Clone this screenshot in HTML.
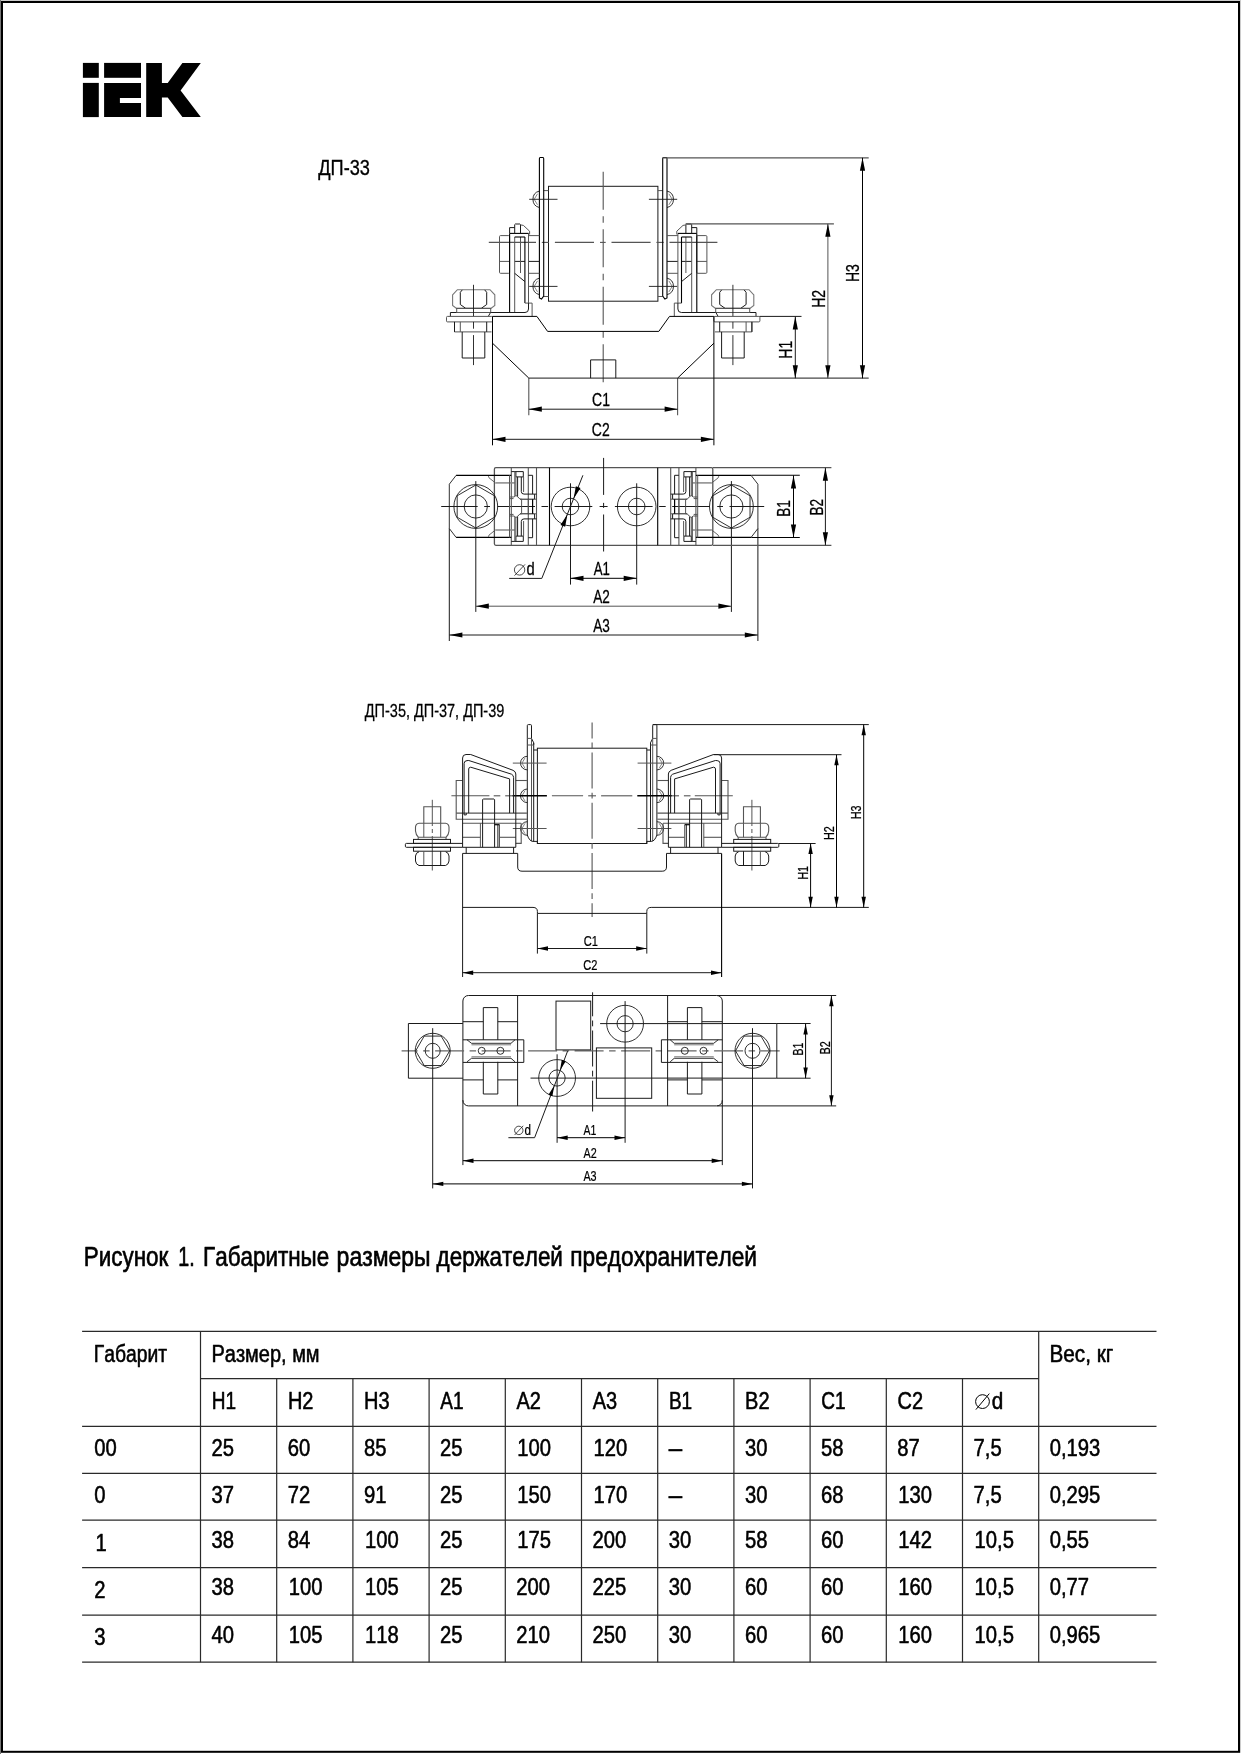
<!DOCTYPE html>
<html><head><meta charset="utf-8"><title>IEK</title>
<style>
html,body{margin:0;padding:0;background:#fff}
svg{display:block;will-change:transform;filter:grayscale(1)}
text{font-family:"Liberation Sans",sans-serif;fill:#000;font-kerning:none;stroke-linejoin:round}
</style></head><body>
<svg width="1241" height="1754" viewBox="0 0 1241 1754">
<rect x="0" y="0" width="1241" height="1754" fill="#fff"/>
<rect x="0" y="0" width="1241" height="1" fill="#ccc"/>
<rect x="0" y="0" width="1" height="1754" fill="#777"/>
<rect x="1240" y="0" width="1" height="1752.8" fill="#ccc"/>
<rect x="2" y="2" width="1237" height="1749.8" fill="none" stroke="#000" stroke-width="2"/>
<g fill="#000">
<rect x="82.9" y="62.9" width="15.9" height="14.9"/>
<rect x="82.9" y="82.9" width="15.9" height="34.2"/>
<rect x="104.1" y="62.9" width="36.9" height="14.9"/>
<path d="M104.1 82.9H141V98H119.9V102.9H141V117.1H104.1Z"/>
<path d="M146.2 62.9H161.9V82.9H167.7L182.4 62.9H200.8L180.6 90.5L200.8 117.1H182.4L167.7 97.5H161.9V117.1H146.2Z"/>
</g>
<text transform="translate(318.27 174.6) scale(0.82 1)" font-size="22.2" stroke="#000" stroke-width="0.31" vector-effect="non-scaling-stroke">ДП-33</text>
<rect x="548.5" y="186.3" width="109.4" height="114.9" rx="0" fill="none" stroke="#1a1a1a" stroke-width="1"/>
<line x1="603.2" y1="171.8" x2="603.2" y2="383" stroke="#555" stroke-width="1.1" stroke-dasharray="38 6.5 6.5 6.5"/>
<line x1="488.8" y1="242.4" x2="536" y2="242.4" stroke="#555" stroke-width="1.1"/>
<line x1="541.8" y1="242.4" x2="549" y2="242.4" stroke="#555" stroke-width="1.1"/>
<line x1="554.9" y1="242.4" x2="594" y2="242.4" stroke="#555" stroke-width="1.1"/>
<line x1="600" y1="242.4" x2="605.7" y2="242.4" stroke="#555" stroke-width="1.1"/>
<line x1="611.5" y1="242.4" x2="650.6" y2="242.4" stroke="#555" stroke-width="1.1"/>
<line x1="656.4" y1="242.4" x2="663.7" y2="242.4" stroke="#555" stroke-width="1.1"/>
<line x1="669.5" y1="242.4" x2="717.4" y2="242.4" stroke="#555" stroke-width="1.1"/>
<path d="M543.7 190.6 L548.5 190.6" fill="none" stroke="#555" stroke-width="1"/>
<path d="M543.7 296.5 L548.5 296.5" fill="none" stroke="#555" stroke-width="1"/>
<path d="M539.4 298 L539.4 159 Q539.4 157.3 540.4 157.5 L542.7 157.5 Q543.7 157.3 543.7 159 L543.7 296 L541.5 299 Z" fill="none" stroke="#000" stroke-width="1.1"/>
<path d="M539.4 191.05 A8.5 8.5 0 0 0 539.4 207.55" fill="none" stroke="#1a1a1a" stroke-width="0.9"/>
<path d="M537.5 193.8 L534.2 199.3 L537.5 204.8" fill="none" stroke="#555" stroke-width="0.7"/>
<line x1="529.2" y1="199.3" x2="557.5" y2="199.3" stroke="#1a1a1a" stroke-width="0.9"/>
<path d="M539.4 278.15 A8.5 8.5 0 0 0 539.4 294.65" fill="none" stroke="#1a1a1a" stroke-width="0.9"/>
<path d="M537.5 280.9 L534.2 286.4 L537.5 291.9" fill="none" stroke="#555" stroke-width="0.7"/>
<line x1="529.2" y1="286.4" x2="557.5" y2="286.4" stroke="#1a1a1a" stroke-width="0.9"/>
<rect x="499.5" y="235.6" width="10.1" height="37.7" rx="1" fill="none" stroke="#555" stroke-width="1"/>
<line x1="499.5" y1="261.4" x2="509.6" y2="261.4" stroke="#555" stroke-width="1"/>
<path d="M528.5 235.6 L539.4 235.6" fill="none" stroke="#555" stroke-width="1"/>
<path d="M528.5 273.3 L539.4 273.3" fill="none" stroke="#555" stroke-width="1"/>
<line x1="528.5" y1="261.4" x2="539.4" y2="261.4" stroke="#1a1a1a" stroke-width="1"/>
<line x1="514.7" y1="261.4" x2="524.9" y2="261.4" stroke="#1a1a1a" stroke-width="1"/>
<line x1="509.6" y1="233.4" x2="509.6" y2="312.5" stroke="#000" stroke-width="1.1"/>
<line x1="514.7" y1="237" x2="514.7" y2="312.5" stroke="#555" stroke-width="1"/>
<line x1="524.9" y1="237" x2="524.9" y2="303.1" stroke="#000" stroke-width="1.1"/>
<line x1="528.5" y1="233.4" x2="528.5" y2="303.1" stroke="#555" stroke-width="1"/>
<line x1="520.5" y1="237" x2="520.5" y2="273" stroke="#555" stroke-width="1"/>
<line x1="509.6" y1="233.4" x2="528.5" y2="233.4" stroke="#000" stroke-width="1.1"/>
<line x1="514.7" y1="237" x2="524.9" y2="237" stroke="#000" stroke-width="1.1"/>
<line x1="514.7" y1="273.3" x2="524.9" y2="281.6" stroke="#1a1a1a" stroke-width="1"/>
<path d="M509.6 233.4 L509.6 227.6 L514.7 227.6" fill="none" stroke="#1a1a1a" stroke-width="1"/>
<path d="M514.7 233.4 L514.7 224.6 L515.3 224 L519.9 224 L520.5 224.6 L520.5 233.4" fill="none" stroke="#1a1a1a" stroke-width="1"/>
<path d="M520.5 224.9 L523.4 225.4 L529.6 231.2 L529.6 234.5" fill="none" stroke="#555" stroke-width="1"/>
<path d="M524.9 303.1 L532.1 303.1 L532.1 316.4" fill="none" stroke="#555" stroke-width="1"/>
<path d="M528.5 303.1 L528.5 309 Q528.5 312.5 525 312.5 L450.4 312.5" fill="none" stroke="#1a1a1a" stroke-width="1"/>
<path d="M452.6 294.8 L457.4 289.7 L490 289.7 L494.8 294.8 L494.8 305.5 L490.9 308.4 L456.5 308.4 L452.6 305.5 Z" fill="none" stroke="#777" stroke-width="1.1"/>
<path d="M462.3 289.9 L460.3 292.3 L460.3 304.5 L465.8 308.4 L481.2 308.4 L486.7 304.5 L486.7 292.3 L484.7 289.9" fill="none" stroke="#1a1a1a" stroke-width="1"/>
<rect x="456.7" y="308.4" width="34" height="4.1" rx="0" fill="none" stroke="#555" stroke-width="1"/>
<path d="M490.5 312.5 L488.3 316.4" fill="none" stroke="#1a1a1a" stroke-width="1"/>
<line x1="450.4" y1="312.5" x2="450.4" y2="316.4" stroke="#1a1a1a" stroke-width="1"/>
<rect x="446.5" y="316.4" width="46" height="5.5" rx="1" fill="none" stroke="#555" stroke-width="1"/>
<path d="M454.5 321.9 L454.5 331.9 L491.5 331.9" fill="none" stroke="#555" stroke-width="1"/>
<line x1="460.3" y1="321.9" x2="460.3" y2="331.9" stroke="#555" stroke-width="1"/>
<line x1="454.5" y1="321.9" x2="454.5" y2="331.9" stroke="#1a1a1a" stroke-width="1"/>
<line x1="486.7" y1="321.9" x2="486.7" y2="331.9" stroke="#1a1a1a" stroke-width="1"/>
<path d="M462.2 331.9 L462.2 358 L484.8 358 L484.8 331.9" fill="none" stroke="#1a1a1a" stroke-width="1"/>
<line x1="473.5" y1="284.8" x2="473.5" y2="316.1" stroke="#1a1a1a" stroke-width="0.9"/>
<line x1="473.5" y1="321.9" x2="473.5" y2="328.7" stroke="#1a1a1a" stroke-width="0.9"/>
<line x1="473.5" y1="335.1" x2="473.5" y2="365.1" stroke="#1a1a1a" stroke-width="0.9"/>
<path d="M662.7 190.6 L657.9 190.6" fill="none" stroke="#555" stroke-width="1"/>
<path d="M662.7 296.5 L657.9 296.5" fill="none" stroke="#555" stroke-width="1"/>
<path d="M667 298 L667 159 Q667 157.3 666 157.5 L663.7 157.5 Q662.7 157.3 662.7 159 L662.7 296 L664.9 299 Z" fill="none" stroke="#000" stroke-width="1.1"/>
<path d="M667 191.05 A8.5 8.5 0 0 1 667 207.55" fill="none" stroke="#1a1a1a" stroke-width="0.9"/>
<path d="M668.9 193.8 L672.2 199.3 L668.9 204.8" fill="none" stroke="#555" stroke-width="0.7"/>
<line x1="677.2" y1="199.3" x2="648.9" y2="199.3" stroke="#1a1a1a" stroke-width="0.9"/>
<path d="M667 278.15 A8.5 8.5 0 0 1 667 294.65" fill="none" stroke="#1a1a1a" stroke-width="0.9"/>
<path d="M668.9 280.9 L672.2 286.4 L668.9 291.9" fill="none" stroke="#555" stroke-width="0.7"/>
<line x1="677.2" y1="286.4" x2="648.9" y2="286.4" stroke="#1a1a1a" stroke-width="0.9"/>
<rect x="696.8" y="235.6" width="10.1" height="37.7" rx="1" fill="none" stroke="#555" stroke-width="1"/>
<line x1="706.9" y1="261.4" x2="696.8" y2="261.4" stroke="#555" stroke-width="1"/>
<path d="M677.9 235.6 L667 235.6" fill="none" stroke="#555" stroke-width="1"/>
<path d="M677.9 273.3 L667 273.3" fill="none" stroke="#555" stroke-width="1"/>
<line x1="677.9" y1="261.4" x2="667" y2="261.4" stroke="#1a1a1a" stroke-width="1"/>
<line x1="691.7" y1="261.4" x2="681.5" y2="261.4" stroke="#1a1a1a" stroke-width="1"/>
<line x1="696.8" y1="233.4" x2="696.8" y2="312.5" stroke="#000" stroke-width="1.1"/>
<line x1="691.7" y1="237" x2="691.7" y2="312.5" stroke="#555" stroke-width="1"/>
<line x1="681.5" y1="237" x2="681.5" y2="303.1" stroke="#000" stroke-width="1.1"/>
<line x1="677.9" y1="233.4" x2="677.9" y2="303.1" stroke="#555" stroke-width="1"/>
<line x1="685.9" y1="237" x2="685.9" y2="273" stroke="#555" stroke-width="1"/>
<line x1="696.8" y1="233.4" x2="677.9" y2="233.4" stroke="#000" stroke-width="1.1"/>
<line x1="691.7" y1="237" x2="681.5" y2="237" stroke="#000" stroke-width="1.1"/>
<line x1="691.7" y1="273.3" x2="681.5" y2="281.6" stroke="#1a1a1a" stroke-width="1"/>
<path d="M696.8 233.4 L696.8 227.6 L691.7 227.6" fill="none" stroke="#1a1a1a" stroke-width="1"/>
<path d="M691.7 233.4 L691.7 224.6 L691.1 224 L686.5 224 L685.9 224.6 L685.9 233.4" fill="none" stroke="#1a1a1a" stroke-width="1"/>
<path d="M685.9 224.9 L683 225.4 L676.8 231.2 L676.8 234.5" fill="none" stroke="#555" stroke-width="1"/>
<path d="M681.5 303.1 L674.3 303.1 L674.3 316.4" fill="none" stroke="#555" stroke-width="1"/>
<path d="M677.9 303.1 L677.9 309 Q677.9 312.5 681.4 312.5 L756 312.5" fill="none" stroke="#1a1a1a" stroke-width="1"/>
<path d="M753.8 294.8 L749 289.7 L716.4 289.7 L711.6 294.8 L711.6 305.5 L715.5 308.4 L749.9 308.4 L753.8 305.5 Z" fill="none" stroke="#777" stroke-width="1.1"/>
<path d="M744.1 289.9 L746.1 292.3 L746.1 304.5 L740.6 308.4 L725.2 308.4 L719.7 304.5 L719.7 292.3 L721.7 289.9" fill="none" stroke="#1a1a1a" stroke-width="1"/>
<rect x="715.7" y="308.4" width="34" height="4.1" rx="0" fill="none" stroke="#555" stroke-width="1"/>
<path d="M715.9 312.5 L718.1 316.4" fill="none" stroke="#1a1a1a" stroke-width="1"/>
<line x1="756" y1="312.5" x2="756" y2="316.4" stroke="#1a1a1a" stroke-width="1"/>
<rect x="713.9" y="316.4" width="46" height="5.5" rx="1" fill="none" stroke="#555" stroke-width="1"/>
<path d="M751.9 321.9 L751.9 331.9 L714.9 331.9" fill="none" stroke="#555" stroke-width="1"/>
<line x1="746.1" y1="321.9" x2="746.1" y2="331.9" stroke="#555" stroke-width="1"/>
<line x1="751.9" y1="321.9" x2="751.9" y2="331.9" stroke="#1a1a1a" stroke-width="1"/>
<line x1="719.7" y1="321.9" x2="719.7" y2="331.9" stroke="#1a1a1a" stroke-width="1"/>
<path d="M744.2 331.9 L744.2 358 L721.6 358 L721.6 331.9" fill="none" stroke="#1a1a1a" stroke-width="1"/>
<line x1="732.9" y1="284.8" x2="732.9" y2="316.1" stroke="#1a1a1a" stroke-width="0.9"/>
<line x1="732.9" y1="321.9" x2="732.9" y2="328.7" stroke="#1a1a1a" stroke-width="0.9"/>
<line x1="732.9" y1="335.1" x2="732.9" y2="365.1" stroke="#1a1a1a" stroke-width="0.9"/>
<path d="M492.5 316.4 L536.9 316.4 L547.6 331.4 L658.8 331.4 L669.5 316.4 L713.9 316.4" fill="none" stroke="#000" stroke-width="1"/>
<path d="M492.5 343.2 L528.8 378.1" fill="none" stroke="#000" stroke-width="1"/>
<path d="M713.9 343.2 L677.6 378.1" fill="none" stroke="#000" stroke-width="1"/>
<line x1="492.5" y1="316.4" x2="492.5" y2="445.3" stroke="#000" stroke-width="1"/>
<line x1="713.9" y1="316.4" x2="713.9" y2="445.3" stroke="#000" stroke-width="1"/>
<line x1="528.8" y1="378.1" x2="528.8" y2="415.2" stroke="#555" stroke-width="1.1"/>
<line x1="677.6" y1="378.1" x2="677.6" y2="415.2" stroke="#555" stroke-width="1.1"/>
<line x1="528.8" y1="378.1" x2="868.7" y2="378.1" stroke="#1a1a1a" stroke-width="1"/>
<path d="M590.6 378.1 L590.6 359.9 L615.8 359.9 L615.8 378.1" fill="none" stroke="#1a1a1a" stroke-width="1"/>
<line x1="662.7" y1="157.8" x2="868.7" y2="157.8" stroke="#555" stroke-width="1.3"/>
<line x1="685.6" y1="223.8" x2="833.9" y2="223.8" stroke="#555" stroke-width="1.3"/>
<line x1="759.6" y1="316.4" x2="801.5" y2="316.4" stroke="#1a1a1a" stroke-width="1"/>
<line x1="862.5" y1="157.8" x2="862.5" y2="378.3" stroke="#000" stroke-width="1"/>
<path d="M862.5 157.8 L859.9 170.8 L865.1 170.8 Z" fill="#000"/>
<path d="M862.5 378.3 L865.1 365.3 L859.9 365.3 Z" fill="#000"/>
<line x1="827.9" y1="223.8" x2="827.9" y2="378.3" stroke="#555" stroke-width="1"/>
<path d="M827.9 223.8 L825.3 236.8 L830.5 236.8 Z" fill="#000"/>
<path d="M827.9 378.3 L830.5 365.3 L825.3 365.3 Z" fill="#000"/>
<line x1="795.3" y1="316.5" x2="795.3" y2="378.3" stroke="#1a1a1a" stroke-width="1"/>
<path d="M795.3 316.5 L792.7 329.5 L797.9 329.5 Z" fill="#000"/>
<path d="M795.3 378.3 L797.9 365.3 L792.7 365.3 Z" fill="#000"/>
<text transform="translate(791.7 349.5) rotate(-90) scale(0.74 1)" x="-12.39" y="0" font-size="18.9" stroke="#000" stroke-width="0.26" vector-effect="non-scaling-stroke">H1</text>
<text transform="translate(825 298.6) rotate(-90) scale(0.74 1)" x="-12.38" y="0" font-size="18.9" stroke="#000" stroke-width="0.26" vector-effect="non-scaling-stroke">H2</text>
<text transform="translate(858.6 272.8) rotate(-90) scale(0.74 1)" x="-12.44" y="0" font-size="18.9" stroke="#000" stroke-width="0.26" vector-effect="non-scaling-stroke">H3</text>
<line x1="528.8" y1="409.2" x2="677.6" y2="409.2" stroke="#1a1a1a" stroke-width="1"/>
<path d="M528.8 409.2 L541.8 411.8 L541.8 406.6 Z" fill="#000"/>
<path d="M677.6 409.2 L664.6 406.6 L664.6 411.8 Z" fill="#000"/>
<line x1="492.5" y1="439.3" x2="713.9" y2="439.3" stroke="#1a1a1a" stroke-width="1"/>
<path d="M492.5 439.3 L505.5 441.9 L505.5 436.7 Z" fill="#000"/>
<path d="M713.9 439.3 L700.9 436.7 L700.9 441.9 Z" fill="#000"/>
<text transform="translate(592.05 405.6) scale(0.74 1)" font-size="18.9" stroke="#000" stroke-width="0.26" vector-effect="non-scaling-stroke">C1</text>
<text transform="translate(591.86 436.2) scale(0.74 1)" font-size="18.9" stroke="#000" stroke-width="0.26" vector-effect="non-scaling-stroke">C2</text>
<rect x="494.4" y="467.7" width="218.4" height="77.6" rx="1.5" fill="none" stroke="#555" stroke-width="1.3"/>
<line x1="603.6" y1="457.9" x2="603.6" y2="494.9" stroke="#1a1a1a" stroke-width="1"/>
<line x1="603.6" y1="502.9" x2="603.6" y2="507.9" stroke="#1a1a1a" stroke-width="1"/>
<line x1="603.6" y1="514.5" x2="603.6" y2="551.5" stroke="#1a1a1a" stroke-width="1"/>
<line x1="441.2" y1="506.5" x2="477.7" y2="506.5" stroke="#1a1a1a" stroke-width="1"/>
<line x1="484.2" y1="506.5" x2="490" y2="506.5" stroke="#1a1a1a" stroke-width="1"/>
<line x1="497.3" y1="506.5" x2="535" y2="506.5" stroke="#1a1a1a" stroke-width="1"/>
<line x1="541.5" y1="506.5" x2="548.1" y2="506.5" stroke="#1a1a1a" stroke-width="1"/>
<line x1="554.6" y1="506.5" x2="592.3" y2="506.5" stroke="#1a1a1a" stroke-width="1"/>
<line x1="599.6" y1="506.5" x2="607.6" y2="506.5" stroke="#1a1a1a" stroke-width="1"/>
<line x1="614.9" y1="506.5" x2="652.6" y2="506.5" stroke="#1a1a1a" stroke-width="1"/>
<line x1="659.1" y1="506.5" x2="665.7" y2="506.5" stroke="#1a1a1a" stroke-width="1"/>
<line x1="672.2" y1="506.5" x2="709.9" y2="506.5" stroke="#1a1a1a" stroke-width="1"/>
<line x1="717.2" y1="506.5" x2="723" y2="506.5" stroke="#1a1a1a" stroke-width="1"/>
<line x1="729.5" y1="506.5" x2="764.2" y2="506.5" stroke="#1a1a1a" stroke-width="1"/>
<line x1="511.3" y1="467.7" x2="511.3" y2="545.3" stroke="#555" stroke-width="1.1"/>
<line x1="528.3" y1="467.7" x2="528.3" y2="545.3" stroke="#555" stroke-width="1.1"/>
<line x1="536.5" y1="467.7" x2="536.5" y2="545.3" stroke="#555" stroke-width="1.1"/>
<line x1="549.5" y1="467.7" x2="549.5" y2="545.3" stroke="#000" stroke-width="1.1"/>
<path d="M456.1 475.4 L449.3 484.2 L449.3 528.5 L456.1 537.4" fill="none" stroke="#1a1a1a" stroke-width="0.9"/>
<line x1="456.1" y1="475.4" x2="511.3" y2="475.4" stroke="#000" stroke-width="1.3"/>
<line x1="456.1" y1="537.4" x2="511.3" y2="537.4" stroke="#000" stroke-width="1.3"/>
<path d="M488.4 476.1 L489 477.8 L495.4 482.9" fill="none" stroke="#555" stroke-width="0.9"/>
<line x1="495.4" y1="482.9" x2="514.8" y2="482.9" stroke="#888" stroke-width="1.5"/>
<path d="M488.4 536.8 L489 535.1 L495.4 530" fill="none" stroke="#555" stroke-width="0.9"/>
<line x1="495.4" y1="530" x2="514.8" y2="530" stroke="#888" stroke-width="1.5"/>
<circle cx="475.8" cy="506.5" r="21.9" fill="none" stroke="#1a1a1a" stroke-width="0.9"/>
<path d="M494.42 517.25 L475.8 528 L457.18 517.25 L457.18 495.75 L475.8 485 L494.42 495.75 Z" fill="none" stroke="#1a1a1a" stroke-width="0.9"/>
<circle cx="475.8" cy="506.5" r="11.6" fill="none" stroke="#1a1a1a" stroke-width="0.9"/>
<line x1="475.8" y1="481.1" x2="475.8" y2="611.9" stroke="#1a1a1a" stroke-width="1"/>
<line x1="449.3" y1="528.5" x2="449.3" y2="641" stroke="#1a1a1a" stroke-width="1"/>
<circle cx="570.5" cy="506.5" r="19.3" fill="none" stroke="#1a1a1a" stroke-width="0.9"/>
<circle cx="570.5" cy="506.5" r="8.3" fill="none" stroke="#1a1a1a" stroke-width="0.9"/>
<line x1="570.5" y1="483.3" x2="570.5" y2="584.6" stroke="#1a1a1a" stroke-width="1"/>
<line x1="509.5" y1="475.3" x2="509.5" y2="537.5" stroke="#555" stroke-width="1"/>
<path d="M511.3 471.6 L523.3 471.6 L523.3 476.9 L515.9 476.9 L515.9 471.6" fill="none" stroke="#1a1a1a" stroke-width="1"/>
<line x1="514.8" y1="471.6" x2="514.8" y2="496" stroke="#555" stroke-width="1"/>
<line x1="515.9" y1="476.9" x2="515.9" y2="496" stroke="#555" stroke-width="1"/>
<line x1="517.6" y1="476.9" x2="517.6" y2="496.5" stroke="#1a1a1a" stroke-width="1"/>
<path d="M521.3 476.9 L521.3 491.5 Q521.3 494.1 524 494.1 L534.6 494.1" fill="none" stroke="#1a1a1a" stroke-width="1"/>
<line x1="523.6" y1="476.9" x2="523.6" y2="492" stroke="#555" stroke-width="1"/>
<path d="M528.3 475.3 L532.6 475.3 L532.6 494.1" fill="none" stroke="#1a1a1a" stroke-width="1"/>
<path d="M520 499.2 L534.6 499.2 L534.6 494.1 L536.5 494.1" fill="none" stroke="#1a1a1a" stroke-width="1"/>
<line x1="534.6" y1="499.2" x2="536.5" y2="499.2" stroke="#555" stroke-width="1"/>
<path d="M509.5 497 L514 497 L516 495.5 L518 497 L520 499.2 L521.6 499.2 L521.6 506.5" fill="none" stroke="#555" stroke-width="1"/>
<path d="M509.5 498.6 L513.5 498.6" fill="none" stroke="#555" stroke-width="1"/>
<path d="M511.3 541.4 L523.3 541.4 L523.3 536.1 L515.9 536.1 L515.9 541.4" fill="none" stroke="#1a1a1a" stroke-width="1"/>
<line x1="514.8" y1="541.4" x2="514.8" y2="517" stroke="#555" stroke-width="1"/>
<line x1="515.9" y1="536.1" x2="515.9" y2="517" stroke="#555" stroke-width="1"/>
<line x1="517.6" y1="536.1" x2="517.6" y2="516.5" stroke="#1a1a1a" stroke-width="1"/>
<path d="M521.3 536.1 L521.3 521.5 Q521.3 518.9 524 518.9 L534.6 518.9" fill="none" stroke="#1a1a1a" stroke-width="1"/>
<line x1="523.6" y1="536.1" x2="523.6" y2="521" stroke="#555" stroke-width="1"/>
<path d="M528.3 537.7 L532.6 537.7 L532.6 518.9" fill="none" stroke="#1a1a1a" stroke-width="1"/>
<path d="M520 513.8 L534.6 513.8 L534.6 518.9 L536.5 518.9" fill="none" stroke="#1a1a1a" stroke-width="1"/>
<line x1="534.6" y1="513.8" x2="536.5" y2="513.8" stroke="#555" stroke-width="1"/>
<path d="M509.5 516 L514 516 L516 517.5 L518 516 L520 513.8 L521.6 513.8 L521.6 506.5" fill="none" stroke="#555" stroke-width="1"/>
<path d="M509.5 514.4 L513.5 514.4" fill="none" stroke="#555" stroke-width="1"/>
<line x1="532.6" y1="499.2" x2="532.6" y2="513.8" stroke="#000" stroke-width="1.2"/>
<line x1="528.3" y1="499.2" x2="528.3" y2="513.8" stroke="#555" stroke-width="1"/>
<line x1="695.9" y1="467.7" x2="695.9" y2="545.3" stroke="#555" stroke-width="1.1"/>
<line x1="678.9" y1="467.7" x2="678.9" y2="545.3" stroke="#555" stroke-width="1.1"/>
<line x1="670.7" y1="467.7" x2="670.7" y2="545.3" stroke="#555" stroke-width="1.1"/>
<line x1="657.7" y1="467.7" x2="657.7" y2="545.3" stroke="#000" stroke-width="1.1"/>
<path d="M751.1 475.4 L757.9 484.2 L757.9 528.5 L751.1 537.4" fill="none" stroke="#1a1a1a" stroke-width="0.9"/>
<line x1="751.1" y1="475.4" x2="695.9" y2="475.4" stroke="#000" stroke-width="1.3"/>
<line x1="751.1" y1="537.4" x2="695.9" y2="537.4" stroke="#000" stroke-width="1.3"/>
<path d="M718.8 476.1 L718.2 477.8 L711.8 482.9" fill="none" stroke="#555" stroke-width="0.9"/>
<line x1="711.8" y1="482.9" x2="692.4" y2="482.9" stroke="#888" stroke-width="1.5"/>
<path d="M718.8 536.8 L718.2 535.1 L711.8 530" fill="none" stroke="#555" stroke-width="0.9"/>
<line x1="711.8" y1="530" x2="692.4" y2="530" stroke="#888" stroke-width="1.5"/>
<circle cx="731.4" cy="506.5" r="21.9" fill="none" stroke="#1a1a1a" stroke-width="0.9"/>
<path d="M750.02 517.25 L731.4 528 L712.78 517.25 L712.78 495.75 L731.4 485 L750.02 495.75 Z" fill="none" stroke="#1a1a1a" stroke-width="0.9"/>
<circle cx="731.4" cy="506.5" r="11.6" fill="none" stroke="#1a1a1a" stroke-width="0.9"/>
<line x1="731.4" y1="481.1" x2="731.4" y2="611.9" stroke="#1a1a1a" stroke-width="1"/>
<line x1="757.9" y1="528.5" x2="757.9" y2="641" stroke="#1a1a1a" stroke-width="1"/>
<circle cx="636.7" cy="506.5" r="19.3" fill="none" stroke="#1a1a1a" stroke-width="0.9"/>
<circle cx="636.7" cy="506.5" r="8.3" fill="none" stroke="#1a1a1a" stroke-width="0.9"/>
<line x1="636.7" y1="483.3" x2="636.7" y2="584.6" stroke="#1a1a1a" stroke-width="1"/>
<line x1="697.7" y1="475.3" x2="697.7" y2="537.5" stroke="#555" stroke-width="1"/>
<path d="M695.9 471.6 L683.9 471.6 L683.9 476.9 L691.3 476.9 L691.3 471.6" fill="none" stroke="#1a1a1a" stroke-width="1"/>
<line x1="692.4" y1="471.6" x2="692.4" y2="496" stroke="#555" stroke-width="1"/>
<line x1="691.3" y1="476.9" x2="691.3" y2="496" stroke="#555" stroke-width="1"/>
<line x1="689.6" y1="476.9" x2="689.6" y2="496.5" stroke="#1a1a1a" stroke-width="1"/>
<path d="M685.9 476.9 L685.9 491.5 Q685.9 494.1 683.2 494.1 L672.6 494.1" fill="none" stroke="#1a1a1a" stroke-width="1"/>
<line x1="683.6" y1="476.9" x2="683.6" y2="492" stroke="#555" stroke-width="1"/>
<path d="M678.9 475.3 L674.6 475.3 L674.6 494.1" fill="none" stroke="#1a1a1a" stroke-width="1"/>
<path d="M687.2 499.2 L672.6 499.2 L672.6 494.1 L670.7 494.1" fill="none" stroke="#1a1a1a" stroke-width="1"/>
<line x1="672.6" y1="499.2" x2="670.7" y2="499.2" stroke="#555" stroke-width="1"/>
<path d="M697.7 497 L693.2 497 L691.2 495.5 L689.2 497 L687.2 499.2 L685.6 499.2 L685.6 506.5" fill="none" stroke="#555" stroke-width="1"/>
<path d="M697.7 498.6 L693.7 498.6" fill="none" stroke="#555" stroke-width="1"/>
<path d="M695.9 541.4 L683.9 541.4 L683.9 536.1 L691.3 536.1 L691.3 541.4" fill="none" stroke="#1a1a1a" stroke-width="1"/>
<line x1="692.4" y1="541.4" x2="692.4" y2="517" stroke="#555" stroke-width="1"/>
<line x1="691.3" y1="536.1" x2="691.3" y2="517" stroke="#555" stroke-width="1"/>
<line x1="689.6" y1="536.1" x2="689.6" y2="516.5" stroke="#1a1a1a" stroke-width="1"/>
<path d="M685.9 536.1 L685.9 521.5 Q685.9 518.9 683.2 518.9 L672.6 518.9" fill="none" stroke="#1a1a1a" stroke-width="1"/>
<line x1="683.6" y1="536.1" x2="683.6" y2="521" stroke="#555" stroke-width="1"/>
<path d="M678.9 537.7 L674.6 537.7 L674.6 518.9" fill="none" stroke="#1a1a1a" stroke-width="1"/>
<path d="M687.2 513.8 L672.6 513.8 L672.6 518.9 L670.7 518.9" fill="none" stroke="#1a1a1a" stroke-width="1"/>
<line x1="672.6" y1="513.8" x2="670.7" y2="513.8" stroke="#555" stroke-width="1"/>
<path d="M697.7 516 L693.2 516 L691.2 517.5 L689.2 516 L687.2 513.8 L685.6 513.8 L685.6 506.5" fill="none" stroke="#555" stroke-width="1"/>
<path d="M697.7 514.4 L693.7 514.4" fill="none" stroke="#555" stroke-width="1"/>
<line x1="674.6" y1="499.2" x2="674.6" y2="513.8" stroke="#000" stroke-width="1.2"/>
<line x1="678.9" y1="499.2" x2="678.9" y2="513.8" stroke="#555" stroke-width="1"/>
<line x1="582.9" y1="475.3" x2="541.8" y2="578.4" stroke="#1a1a1a" stroke-width="1"/>
<line x1="541.8" y1="578.4" x2="509.2" y2="578.4" stroke="#1a1a1a" stroke-width="1"/>
<path d="M573.57 498.79 L580.52 488.1 L575.87 486.25 Z" fill="#000"/>
<path d="M567.43 514.21 L560.48 524.9 L565.13 526.75 Z" fill="#000"/>
<circle cx="519.6" cy="569.9" r="5.2" fill="none" stroke="#000" stroke-width="0.7"/>
<line x1="514.5" y1="575.6" x2="525" y2="564.4" stroke="#000" stroke-width="0.7"/>
<text transform="translate(526.48 575.3) scale(0.78 1)" font-size="18.9" stroke="#000" stroke-width="0.26" vector-effect="non-scaling-stroke">d</text>
<line x1="712.8" y1="467.7" x2="831.4" y2="467.7" stroke="#555" stroke-width="1.3"/>
<line x1="712.8" y1="545.3" x2="831.4" y2="545.3" stroke="#555" stroke-width="1.3"/>
<line x1="751.3" y1="475.3" x2="799.8" y2="475.3" stroke="#000" stroke-width="1.1"/>
<line x1="751.3" y1="537.5" x2="799.8" y2="537.5" stroke="#000" stroke-width="1.1"/>
<line x1="793.5" y1="475.4" x2="793.5" y2="537.4" stroke="#000" stroke-width="1"/>
<path d="M793.5 475.4 L790.9 488.4 L796.1 488.4 Z" fill="#000"/>
<path d="M793.5 537.4 L796.1 524.4 L790.9 524.4 Z" fill="#000"/>
<line x1="825.4" y1="467.8" x2="825.4" y2="545.2" stroke="#1a1a1a" stroke-width="1"/>
<path d="M825.4 467.8 L822.8 480.8 L828 480.8 Z" fill="#000"/>
<path d="M825.4 545.2 L828 532.2 L822.8 532.2 Z" fill="#000"/>
<text transform="translate(789.9 508.3) rotate(-90) scale(0.72 1)" x="-11.87" y="0" font-size="18.9" stroke="#000" stroke-width="0.26" vector-effect="non-scaling-stroke">B1</text>
<text transform="translate(823.2 507) rotate(-90) scale(0.72 1)" x="-11.86" y="0" font-size="18.9" stroke="#000" stroke-width="0.26" vector-effect="non-scaling-stroke">B2</text>
<line x1="570.5" y1="578.3" x2="636.7" y2="578.3" stroke="#000" stroke-width="1"/>
<path d="M570.5 578.3 L583.5 580.9 L583.5 575.7 Z" fill="#000"/>
<path d="M636.7 578.3 L623.7 575.7 L623.7 580.9 Z" fill="#000"/>
<line x1="475.8" y1="606.2" x2="731.4" y2="606.2" stroke="#555" stroke-width="1"/>
<path d="M475.8 606.2 L488.8 608.8 L488.8 603.6 Z" fill="#000"/>
<path d="M731.4 606.2 L718.4 603.6 L718.4 608.8 Z" fill="#000"/>
<line x1="449.4" y1="635" x2="757.8" y2="635" stroke="#1a1a1a" stroke-width="1"/>
<path d="M449.4 635 L462.4 637.6 L462.4 632.4 Z" fill="#000"/>
<path d="M757.8 635 L744.8 632.4 L744.8 637.6 Z" fill="#000"/>
<text transform="translate(593.72 575.2) scale(0.7 1)" font-size="18.9" stroke="#000" stroke-width="0.26" vector-effect="non-scaling-stroke">A1</text>
<text transform="translate(593.21 602.6) scale(0.72 1)" font-size="18.9" stroke="#000" stroke-width="0.26" vector-effect="non-scaling-stroke">A2</text>
<text transform="translate(593.16 631.7) scale(0.72 1)" font-size="18.9" stroke="#000" stroke-width="0.26" vector-effect="non-scaling-stroke">A3</text>
<text transform="translate(364.79 717.2) scale(0.81 1)" font-size="17.9" stroke="#000" stroke-width="0.25" vector-effect="non-scaling-stroke">ДП-35, ДП-37, ДП-39</text>
<rect x="537.4" y="748.2" width="109.4" height="95.3" rx="0" fill="none" stroke="#1a1a1a" stroke-width="1"/>
<line x1="592.1" y1="722.5" x2="592.1" y2="917.1" stroke="#555" stroke-width="1.1" stroke-dasharray="36 4.2 5.8 4.2" stroke-dashoffset="20.1"/>
<line x1="451.4" y1="795.8" x2="489.4" y2="795.8" stroke="#555" stroke-width="1.1"/>
<line x1="493.7" y1="795.8" x2="500.3" y2="795.8" stroke="#555" stroke-width="1.1"/>
<line x1="505.2" y1="795.8" x2="512.4" y2="795.8" stroke="#555" stroke-width="1.1"/>
<line x1="551.9" y1="795.8" x2="583.1" y2="795.8" stroke="#555" stroke-width="1.1"/>
<line x1="588.2" y1="795.8" x2="596" y2="795.8" stroke="#555" stroke-width="1.1"/>
<line x1="601.1" y1="795.8" x2="632.3" y2="795.8" stroke="#555" stroke-width="1.1"/>
<line x1="671.8" y1="795.8" x2="679" y2="795.8" stroke="#555" stroke-width="1.1"/>
<line x1="683.9" y1="795.8" x2="690.5" y2="795.8" stroke="#555" stroke-width="1.1"/>
<line x1="694.8" y1="795.8" x2="732.8" y2="795.8" stroke="#555" stroke-width="1.1"/>
<path d="M537.4 750 L533.7 750" fill="none" stroke="#1a1a1a" stroke-width="1"/>
<line x1="533.7" y1="742.8" x2="533.7" y2="841.4" stroke="#1a1a1a" stroke-width="1"/>
<path d="M527.3 835 L527.3 725.6 Q527.3 724.6 528.3 724.6 L530.5 724.6 Q531.5 724.6 531.5 725.6 L531.5 738.4 L533.7 742.8 L533.7 745" fill="none" stroke="#1a1a1a" stroke-width="1"/>
<line x1="531.5" y1="738.4" x2="531.5" y2="841" stroke="#555" stroke-width="1"/>
<line x1="527.3" y1="738.4" x2="531.5" y2="738.4" stroke="#555" stroke-width="1"/>
<line x1="527.3" y1="745" x2="533.7" y2="745" stroke="#555" stroke-width="1"/>
<path d="M527.3 835 Q529.5 841.4 533 841.4 L537.4 841.4 L537.4 843.5" fill="none" stroke="#1a1a1a" stroke-width="1"/>
<path d="M527.3 756.3 A6.8 6.8 0 0 0 527.3 769.9" fill="none" stroke="#1a1a1a" stroke-width="0.9"/>
<path d="M525 757.9 L522 763.1 L525 768.3" fill="none" stroke="#555" stroke-width="0.7"/>
<line x1="512.8" y1="763.1" x2="546.6" y2="763.1" stroke="#555" stroke-width="1"/>
<path d="M527.3 789 A6.8 6.8 0 0 0 527.3 802.6" fill="none" stroke="#1a1a1a" stroke-width="0.9"/>
<path d="M525 790.6 L522 795.8 L525 801" fill="none" stroke="#555" stroke-width="0.7"/>
<line x1="512.4" y1="795.8" x2="546.9" y2="795.8" stroke="#000" stroke-width="1.6"/>
<path d="M527.3 821.7 A6.8 6.8 0 0 0 527.3 835.3" fill="none" stroke="#1a1a1a" stroke-width="0.9"/>
<path d="M525 823.3 L522 828.5 L525 833.7" fill="none" stroke="#555" stroke-width="0.7"/>
<line x1="512.8" y1="828.5" x2="546.6" y2="828.5" stroke="#555" stroke-width="1"/>
<path d="M462.6 780.5 L456.2 780.5 L456.2 819.2 L462.6 819.2" fill="none" stroke="#555" stroke-width="1.1"/>
<path d="M515.8 780.5 L526.9 780.5" fill="none" stroke="#555" stroke-width="1.1"/>
<path d="M515.8 819.2 L526.9 819.2" fill="none" stroke="#555" stroke-width="1.1"/>
<line x1="456.2" y1="813.1" x2="526.9" y2="813.1" stroke="#555" stroke-width="1.1"/>
<line x1="462.6" y1="819.2" x2="515.8" y2="819.2" stroke="#555" stroke-width="1.1"/>
<line x1="462.6" y1="823.2" x2="521.2" y2="823.2" stroke="#555" stroke-width="1.1"/>
<line x1="462.6" y1="837.3" x2="480.4" y2="837.3" stroke="#555" stroke-width="1.1"/>
<line x1="499.5" y1="837.3" x2="515.8" y2="837.3" stroke="#555" stroke-width="1.1"/>
<line x1="462.6" y1="847.3" x2="515.8" y2="847.3" stroke="#1a1a1a" stroke-width="1"/>
<path d="M521.2 823.2 L521.2 843.4 L515.8 843.4" fill="none" stroke="#555" stroke-width="1.1"/>
<path d="M462.6 847.3 L462.6 758 Q462.6 754.6 466 754.5 L470.7 754.5 L513 770.3 Q515.8 771.5 515.8 774 L515.8 847.3" fill="none" stroke="#1a1a1a" stroke-width="1"/>
<path d="M464.1 814.9 L464.1 763.5 Q464.1 760.8 467 760.6 L468.8 760.5 L511.5 774.2 Q513.6 775.2 513.6 777.5 L513.6 813.1" fill="none" stroke="#1a1a1a" stroke-width="1"/>
<path d="M468.7 813.1 L468.7 769 Q468.7 767.3 470.7 767.2 L509.6 778.9 L509.6 813.1" fill="none" stroke="#1a1a1a" stroke-width="1"/>
<path d="M464.1 814.9 L466.3 814.9 L466.3 813.1" fill="none" stroke="#1a1a1a" stroke-width="1"/>
<path d="M482.6 847.3 L482.6 799.6 L483.2 799 L494 799 L494.6 799.6 L494.6 847.3" fill="none" stroke="#1a1a1a" stroke-width="1"/>
<line x1="480.4" y1="823.2" x2="480.4" y2="847.3" stroke="#555" stroke-width="1"/>
<line x1="497.9" y1="824.7" x2="497.9" y2="847.3" stroke="#1a1a1a" stroke-width="1"/>
<line x1="499.5" y1="824.7" x2="499.5" y2="847.3" stroke="#555" stroke-width="1"/>
<line x1="494.6" y1="824.7" x2="499.5" y2="824.7" stroke="#000" stroke-width="1.2"/>
<path d="M466.2 847.3 L466.2 853.4" fill="none" stroke="#1a1a1a" stroke-width="1"/>
<path d="M513.6 847.3 L513.6 853.4" fill="none" stroke="#1a1a1a" stroke-width="1"/>
<line x1="432.3" y1="799.8" x2="432.3" y2="826" stroke="#555" stroke-width="1"/>
<line x1="432.3" y1="829" x2="432.3" y2="833" stroke="#555" stroke-width="1"/>
<line x1="432.3" y1="836" x2="432.3" y2="870.5" stroke="#555" stroke-width="1"/>
<path d="M423.8 823.2 L423.8 806.7 L440.7 806.7 L440.7 823.2" fill="none" stroke="#555" stroke-width="1.1"/>
<path d="M419 823.2 L445.6 823.2 Q448.6 823.5 449 827 L449 831 Q448.8 834.5 446 837.3 L418.5 837.3 Q415.7 834.5 415.5 831 L415.5 827 Q415.9 823.5 419 823.2 Z" fill="none" stroke="#555" stroke-width="1.1"/>
<line x1="423.8" y1="823.2" x2="423.8" y2="837.3" stroke="#555" stroke-width="1"/>
<line x1="440.7" y1="823.2" x2="440.7" y2="837.3" stroke="#555" stroke-width="1"/>
<path d="M418.2 837.3 L418.2 839.4" fill="none" stroke="#555" stroke-width="1"/>
<path d="M446 837.3 L446 839.4" fill="none" stroke="#555" stroke-width="1"/>
<rect x="413.5" y="839.4" width="37" height="4" rx="0" fill="none" stroke="#1a1a1a" stroke-width="1"/>
<path d="M462.6 843.4 L406.4 843.4 Q405.4 843.4 405.4 844.4 L405.4 846.3 Q405.4 847.3 406.4 847.3 L462.6 847.3" fill="none" stroke="#1a1a1a" stroke-width="1"/>
<rect x="413.5" y="847.3" width="37" height="3.9" rx="0" fill="none" stroke="#1a1a1a" stroke-width="1"/>
<path d="M419 851.8 Q415.9 852.5 415.5 856 L415.5 861 Q415.9 864.5 419 865.5 L445.6 865.5 Q448.6 864.5 449 861 L449 856 Q448.6 852.5 445.6 851.8" fill="none" stroke="#1a1a1a" stroke-width="1"/>
<line x1="423.8" y1="851.2" x2="423.8" y2="865.5" stroke="#555" stroke-width="1"/>
<line x1="440.7" y1="851.2" x2="440.7" y2="865.5" stroke="#1a1a1a" stroke-width="1"/>
<path d="M646.8 750 L650.5 750" fill="none" stroke="#1a1a1a" stroke-width="1"/>
<line x1="650.5" y1="742.8" x2="650.5" y2="841.4" stroke="#1a1a1a" stroke-width="1"/>
<path d="M656.9 835 L656.9 725.6 Q656.9 724.6 655.9 724.6 L653.7 724.6 Q652.7 724.6 652.7 725.6 L652.7 738.4 L650.5 742.8 L650.5 745" fill="none" stroke="#1a1a1a" stroke-width="1"/>
<line x1="652.7" y1="738.4" x2="652.7" y2="841" stroke="#555" stroke-width="1"/>
<line x1="656.9" y1="738.4" x2="652.7" y2="738.4" stroke="#555" stroke-width="1"/>
<line x1="656.9" y1="745" x2="650.5" y2="745" stroke="#555" stroke-width="1"/>
<path d="M656.9 835 Q654.7 841.4 651.2 841.4 L646.8 841.4 L646.8 843.5" fill="none" stroke="#1a1a1a" stroke-width="1"/>
<path d="M656.9 756.3 A6.8 6.8 0 0 1 656.9 769.9" fill="none" stroke="#1a1a1a" stroke-width="0.9"/>
<path d="M659.2 757.9 L662.2 763.1 L659.2 768.3" fill="none" stroke="#555" stroke-width="0.7"/>
<line x1="671.4" y1="763.1" x2="637.6" y2="763.1" stroke="#555" stroke-width="1"/>
<path d="M656.9 789 A6.8 6.8 0 0 1 656.9 802.6" fill="none" stroke="#1a1a1a" stroke-width="0.9"/>
<path d="M659.2 790.6 L662.2 795.8 L659.2 801" fill="none" stroke="#555" stroke-width="0.7"/>
<line x1="671.8" y1="795.8" x2="637.3" y2="795.8" stroke="#000" stroke-width="1.6"/>
<path d="M656.9 821.7 A6.8 6.8 0 0 1 656.9 835.3" fill="none" stroke="#1a1a1a" stroke-width="0.9"/>
<path d="M659.2 823.3 L662.2 828.5 L659.2 833.7" fill="none" stroke="#555" stroke-width="0.7"/>
<line x1="671.4" y1="828.5" x2="637.6" y2="828.5" stroke="#555" stroke-width="1"/>
<path d="M721.6 780.5 L728 780.5 L728 819.2 L721.6 819.2" fill="none" stroke="#555" stroke-width="1.1"/>
<path d="M668.4 780.5 L657.3 780.5" fill="none" stroke="#555" stroke-width="1.1"/>
<path d="M668.4 819.2 L657.3 819.2" fill="none" stroke="#555" stroke-width="1.1"/>
<line x1="728" y1="813.1" x2="657.3" y2="813.1" stroke="#555" stroke-width="1.1"/>
<line x1="721.6" y1="819.2" x2="668.4" y2="819.2" stroke="#555" stroke-width="1.1"/>
<line x1="721.6" y1="823.2" x2="663" y2="823.2" stroke="#555" stroke-width="1.1"/>
<line x1="721.6" y1="837.3" x2="703.8" y2="837.3" stroke="#555" stroke-width="1.1"/>
<line x1="684.7" y1="837.3" x2="668.4" y2="837.3" stroke="#555" stroke-width="1.1"/>
<line x1="721.6" y1="847.3" x2="668.4" y2="847.3" stroke="#1a1a1a" stroke-width="1"/>
<path d="M663 823.2 L663 843.4 L668.4 843.4" fill="none" stroke="#555" stroke-width="1.1"/>
<path d="M721.6 847.3 L721.6 758 Q721.6 754.6 718.2 754.5 L713.5 754.5 L671.2 770.3 Q668.4 771.5 668.4 774 L668.4 847.3" fill="none" stroke="#1a1a1a" stroke-width="1"/>
<path d="M720.1 814.9 L720.1 763.5 Q720.1 760.8 717.2 760.6 L715.4 760.5 L672.7 774.2 Q670.6 775.2 670.6 777.5 L670.6 813.1" fill="none" stroke="#1a1a1a" stroke-width="1"/>
<path d="M715.5 813.1 L715.5 769 Q715.5 767.3 713.5 767.2 L674.6 778.9 L674.6 813.1" fill="none" stroke="#1a1a1a" stroke-width="1"/>
<path d="M720.1 814.9 L717.9 814.9 L717.9 813.1" fill="none" stroke="#1a1a1a" stroke-width="1"/>
<path d="M701.6 847.3 L701.6 799.6 L701 799 L690.2 799 L689.6 799.6 L689.6 847.3" fill="none" stroke="#1a1a1a" stroke-width="1"/>
<line x1="703.8" y1="823.2" x2="703.8" y2="847.3" stroke="#555" stroke-width="1"/>
<line x1="686.3" y1="824.7" x2="686.3" y2="847.3" stroke="#1a1a1a" stroke-width="1"/>
<line x1="684.7" y1="824.7" x2="684.7" y2="847.3" stroke="#555" stroke-width="1"/>
<line x1="689.6" y1="824.7" x2="684.7" y2="824.7" stroke="#000" stroke-width="1.2"/>
<path d="M718 847.3 L718 853.4" fill="none" stroke="#1a1a1a" stroke-width="1"/>
<path d="M670.6 847.3 L670.6 853.4" fill="none" stroke="#1a1a1a" stroke-width="1"/>
<line x1="751.9" y1="799.8" x2="751.9" y2="826" stroke="#555" stroke-width="1"/>
<line x1="751.9" y1="829" x2="751.9" y2="833" stroke="#555" stroke-width="1"/>
<line x1="751.9" y1="836" x2="751.9" y2="870.5" stroke="#555" stroke-width="1"/>
<path d="M760.4 823.2 L760.4 806.7 L743.5 806.7 L743.5 823.2" fill="none" stroke="#555" stroke-width="1.1"/>
<path d="M765.2 823.2 L738.6 823.2 Q735.6 823.5 735.2 827 L735.2 831 Q735.4 834.5 738.2 837.3 L765.7 837.3 Q768.5 834.5 768.7 831 L768.7 827 Q768.3 823.5 765.2 823.2 Z" fill="none" stroke="#555" stroke-width="1.1"/>
<line x1="760.4" y1="823.2" x2="760.4" y2="837.3" stroke="#555" stroke-width="1"/>
<line x1="743.5" y1="823.2" x2="743.5" y2="837.3" stroke="#555" stroke-width="1"/>
<path d="M766 837.3 L766 839.4" fill="none" stroke="#555" stroke-width="1"/>
<path d="M738.2 837.3 L738.2 839.4" fill="none" stroke="#555" stroke-width="1"/>
<rect x="733.7" y="839.4" width="37" height="4" rx="0" fill="none" stroke="#1a1a1a" stroke-width="1"/>
<path d="M721.6 843.4 L777.8 843.4 Q778.8 843.4 778.8 844.4 L778.8 846.3 Q778.8 847.3 777.8 847.3 L721.6 847.3" fill="none" stroke="#1a1a1a" stroke-width="1"/>
<rect x="733.7" y="847.3" width="37" height="3.9" rx="0" fill="none" stroke="#1a1a1a" stroke-width="1"/>
<path d="M765.2 851.8 Q768.3 852.5 768.7 856 L768.7 861 Q768.3 864.5 765.2 865.5 L738.6 865.5 Q735.6 864.5 735.2 861 L735.2 856 Q735.6 852.5 738.6 851.8" fill="none" stroke="#1a1a1a" stroke-width="1"/>
<line x1="760.4" y1="851.2" x2="760.4" y2="865.5" stroke="#555" stroke-width="1"/>
<line x1="743.5" y1="851.2" x2="743.5" y2="865.5" stroke="#1a1a1a" stroke-width="1"/>
<path d="M462.6 853.4 L517.7 853.4 L517.7 867 Q517.7 871.2 522 871.2 L662.2 871.2 Q666.5 871.2 666.5 867 L666.5 853.4 L721.6 853.4" fill="none" stroke="#1a1a1a" stroke-width="1"/>
<path d="M462.6 907.4 L533 907.4 Q537.4 907.4 537.4 911.5 L537.4 913.4 L646.8 913.4 L646.8 911.5 Q646.8 907.4 651.2 907.4 L868.8 907.4" fill="none" stroke="#1a1a1a" stroke-width="1"/>
<line x1="462.6" y1="853.4" x2="462.6" y2="977" stroke="#1a1a1a" stroke-width="1"/>
<line x1="721.6" y1="853.4" x2="721.6" y2="977" stroke="#000" stroke-width="1.1"/>
<line x1="537.4" y1="913.4" x2="537.4" y2="953.6" stroke="#1a1a1a" stroke-width="1"/>
<line x1="646.8" y1="913.4" x2="646.8" y2="953.6" stroke="#1a1a1a" stroke-width="1"/>
<line x1="652.7" y1="724.6" x2="868.8" y2="724.6" stroke="#1a1a1a" stroke-width="1"/>
<line x1="713.5" y1="754.7" x2="841.5" y2="754.7" stroke="#1a1a1a" stroke-width="1"/>
<line x1="778.8" y1="843.5" x2="815.6" y2="843.5" stroke="#1a1a1a" stroke-width="1"/>
<line x1="863.7" y1="724.6" x2="863.7" y2="907.4" stroke="#000" stroke-width="1"/>
<path d="M863.7 724.6 L861.5 735.2 L865.9 735.2 Z" fill="#000"/>
<path d="M863.7 907.4 L865.9 896.8 L861.5 896.8 Z" fill="#000"/>
<line x1="836.5" y1="754.7" x2="836.5" y2="907.4" stroke="#000" stroke-width="1"/>
<path d="M836.5 754.7 L834.3 765.3 L838.7 765.3 Z" fill="#000"/>
<path d="M836.5 907.4 L838.7 896.8 L834.3 896.8 Z" fill="#000"/>
<line x1="810.6" y1="843.5" x2="810.6" y2="907.4" stroke="#000" stroke-width="1"/>
<path d="M810.6 843.5 L808.4 854.1 L812.8 854.1 Z" fill="#000"/>
<path d="M810.6 907.4 L812.8 896.8 L808.4 896.8 Z" fill="#000"/>
<text transform="translate(808.2 872.7) rotate(-90) scale(0.72 1)" x="-9.84" y="0" font-size="15" stroke="#000" stroke-width="0.21" vector-effect="non-scaling-stroke">H1</text>
<text transform="translate(834.2 833) rotate(-90) scale(0.72 1)" x="-9.83" y="0" font-size="15" stroke="#000" stroke-width="0.21" vector-effect="non-scaling-stroke">H2</text>
<text transform="translate(860.8 812.2) rotate(-90) scale(0.72 1)" x="-9.87" y="0" font-size="15" stroke="#000" stroke-width="0.21" vector-effect="non-scaling-stroke">H3</text>
<line x1="537.4" y1="948.5" x2="646.8" y2="948.5" stroke="#1a1a1a" stroke-width="1"/>
<path d="M537.4 948.5 L548 950.7 L548 946.3 Z" fill="#000"/>
<path d="M646.8 948.5 L636.2 946.3 L636.2 950.7 Z" fill="#000"/>
<line x1="462.6" y1="972.7" x2="721.6" y2="972.7" stroke="#1a1a1a" stroke-width="1"/>
<path d="M462.6 972.7 L473.2 974.9 L473.2 970.5 Z" fill="#000"/>
<path d="M721.6 972.7 L711 970.5 L711 974.9 Z" fill="#000"/>
<text transform="translate(583.69 946.1) scale(0.74 1)" font-size="15" stroke="#000" stroke-width="0.21" vector-effect="non-scaling-stroke">C1</text>
<text transform="translate(583.3 969.8) scale(0.74 1)" font-size="15" stroke="#000" stroke-width="0.21" vector-effect="non-scaling-stroke">C2</text>
<rect x="462.9" y="995.5" width="259.4" height="110.4" rx="5.5" fill="none" stroke="#1a1a1a" stroke-width="1"/>
<line x1="592.6" y1="992.3" x2="592.6" y2="1111.5" stroke="#1a1a1a" stroke-width="1" stroke-dasharray="36 4.2 5.8 4.2" stroke-dashoffset="12"/>
<line x1="401.6" y1="1050.8" x2="779.7" y2="1050.8" stroke="#666" stroke-width="1.3" stroke-dasharray="29 5.5 6.5 5.5" stroke-dashoffset="13"/>
<line x1="517.6" y1="995.5" x2="517.6" y2="1105.9" stroke="#1a1a1a" stroke-width="1"/>
<path d="M462.9 1023.5 L408.4 1023.5 L408.4 1078.2 L462.9 1078.2" fill="none" stroke="#1a1a1a" stroke-width="1"/>
<circle cx="432.7" cy="1050.8" r="17.5" fill="none" stroke="#1a1a1a" stroke-width="0.9"/>
<path d="M449.7 1050.8 L441.2 1065.52 L424.2 1065.52 L415.7 1050.8 L424.2 1036.08 L441.2 1036.08 Z" fill="none" stroke="#1a1a1a" stroke-width="0.9"/>
<circle cx="432.7" cy="1050.8" r="7.5" fill="none" stroke="#1a1a1a" stroke-width="0.9"/>
<line x1="432.7" y1="1028.2" x2="432.7" y2="1188.4" stroke="#1a1a1a" stroke-width="1"/>
<line x1="462.9" y1="1100" x2="462.9" y2="1165.1" stroke="#1a1a1a" stroke-width="1"/>
<path d="M462.9 1039.8 L523.8 1039.8 L523.8 1062.4 L462.9 1062.4" fill="none" stroke="#1a1a1a" stroke-width="1"/>
<path d="M467 1039.8 L471.5 1043.3 L511 1043.3 L515 1039.8" fill="none" stroke="#1a1a1a" stroke-width="0.9"/>
<path d="M471.5 1044.8 L511 1044.8" fill="none" stroke="#555" stroke-width="0.8"/>
<path d="M483.3 1039.8 L483.3 1007.6 L497.8 1007.6 L497.8 1039.8" fill="none" stroke="#1a1a1a" stroke-width="1"/>
<line x1="462.9" y1="1021.7" x2="483.3" y2="1021.7" stroke="#1a1a1a" stroke-width="1"/>
<line x1="497.8" y1="1021.7" x2="517.6" y2="1021.7" stroke="#1a1a1a" stroke-width="1"/>
<path d="M467 1061.8 L471.5 1058.3 L511 1058.3 L515 1061.8" fill="none" stroke="#1a1a1a" stroke-width="0.9"/>
<path d="M471.5 1056.8 L511 1056.8" fill="none" stroke="#555" stroke-width="0.8"/>
<path d="M483.3 1061.8 L483.3 1094 L497.8 1094 L497.8 1061.8" fill="none" stroke="#1a1a1a" stroke-width="1"/>
<line x1="462.9" y1="1079.9" x2="483.3" y2="1079.9" stroke="#1a1a1a" stroke-width="1"/>
<line x1="497.8" y1="1079.9" x2="517.6" y2="1079.9" stroke="#1a1a1a" stroke-width="1"/>
<circle cx="481.7" cy="1050.8" r="3.5" fill="none" stroke="#1a1a1a" stroke-width="0.9"/>
<circle cx="500.4" cy="1050.8" r="3.5" fill="none" stroke="#1a1a1a" stroke-width="0.9"/>
<line x1="667.6" y1="995.5" x2="667.6" y2="1105.9" stroke="#1a1a1a" stroke-width="1"/>
<path d="M722.3 1023.5 L776.8 1023.5 L776.8 1078.2 L722.3 1078.2" fill="none" stroke="#1a1a1a" stroke-width="1"/>
<circle cx="752.5" cy="1050.8" r="17.5" fill="none" stroke="#1a1a1a" stroke-width="0.9"/>
<path d="M769.5 1050.8 L761 1065.52 L744 1065.52 L735.5 1050.8 L744 1036.08 L761 1036.08 Z" fill="none" stroke="#1a1a1a" stroke-width="0.9"/>
<circle cx="752.5" cy="1050.8" r="7.5" fill="none" stroke="#1a1a1a" stroke-width="0.9"/>
<line x1="752.5" y1="1028.2" x2="752.5" y2="1188.4" stroke="#1a1a1a" stroke-width="1"/>
<line x1="722.3" y1="1100" x2="722.3" y2="1165.1" stroke="#1a1a1a" stroke-width="1"/>
<path d="M722.3 1039.8 L661.4 1039.8 L661.4 1062.4 L722.3 1062.4" fill="none" stroke="#1a1a1a" stroke-width="1"/>
<path d="M718.2 1039.8 L713.7 1043.3 L674.2 1043.3 L670.2 1039.8" fill="none" stroke="#1a1a1a" stroke-width="0.9"/>
<path d="M713.7 1044.8 L674.2 1044.8" fill="none" stroke="#555" stroke-width="0.8"/>
<path d="M701.9 1039.8 L701.9 1007.6 L687.4 1007.6 L687.4 1039.8" fill="none" stroke="#1a1a1a" stroke-width="1"/>
<line x1="722.3" y1="1021.7" x2="701.9" y2="1021.7" stroke="#1a1a1a" stroke-width="1"/>
<line x1="687.4" y1="1021.7" x2="667.6" y2="1021.7" stroke="#1a1a1a" stroke-width="1"/>
<path d="M718.2 1061.8 L713.7 1058.3 L674.2 1058.3 L670.2 1061.8" fill="none" stroke="#1a1a1a" stroke-width="0.9"/>
<path d="M713.7 1056.8 L674.2 1056.8" fill="none" stroke="#555" stroke-width="0.8"/>
<path d="M701.9 1061.8 L701.9 1094 L687.4 1094 L687.4 1061.8" fill="none" stroke="#1a1a1a" stroke-width="1"/>
<line x1="722.3" y1="1079.9" x2="701.9" y2="1079.9" stroke="#1a1a1a" stroke-width="1"/>
<line x1="687.4" y1="1079.9" x2="667.6" y2="1079.9" stroke="#1a1a1a" stroke-width="1"/>
<circle cx="703.5" cy="1050.8" r="3.5" fill="none" stroke="#1a1a1a" stroke-width="0.9"/>
<circle cx="684.8" cy="1050.8" r="3.5" fill="none" stroke="#1a1a1a" stroke-width="0.9"/>
<rect x="556" y="1001.1" width="34.7" height="48.8" rx="0" fill="none" stroke="#1a1a1a" stroke-width="1"/>
<rect x="596.4" y="1047.9" width="55.3" height="50.4" rx="0" fill="none" stroke="#1a1a1a" stroke-width="1"/>
<circle cx="557.1" cy="1078" r="18.4" fill="none" stroke="#1a1a1a" stroke-width="0.9"/>
<circle cx="557.1" cy="1078" r="8.1" fill="none" stroke="#1a1a1a" stroke-width="0.9"/>
<circle cx="625.1" cy="1023.7" r="18.4" fill="none" stroke="#1a1a1a" stroke-width="0.9"/>
<circle cx="625.1" cy="1023.7" r="8.1" fill="none" stroke="#1a1a1a" stroke-width="0.9"/>
<line x1="530.5" y1="1078.1" x2="722.3" y2="1078.1" stroke="#1a1a1a" stroke-width="1"/>
<line x1="600.1" y1="1023.6" x2="722.3" y2="1023.6" stroke="#1a1a1a" stroke-width="1"/>
<line x1="557.1" y1="1054.3" x2="557.1" y2="1142.8" stroke="#1a1a1a" stroke-width="1"/>
<line x1="625.1" y1="1001.1" x2="625.1" y2="1142.8" stroke="#1a1a1a" stroke-width="1"/>
<line x1="567.6" y1="1051.1" x2="534.6" y2="1137.7" stroke="#1a1a1a" stroke-width="1"/>
<line x1="534.6" y1="1137.7" x2="508.4" y2="1137.7" stroke="#1a1a1a" stroke-width="1"/>
<path d="M559.98 1070.43 L565.72 1061.28 L561.8 1059.79 Z" fill="#000"/>
<path d="M554.22 1085.57 L548.48 1094.72 L552.4 1096.21 Z" fill="#000"/>
<circle cx="518.8" cy="1130.4" r="4.2" fill="none" stroke="#000" stroke-width="0.7"/>
<line x1="514.6" y1="1135" x2="523.2" y2="1125.8" stroke="#000" stroke-width="0.7"/>
<text transform="translate(524.51 1134.7) scale(0.78 1)" font-size="15" stroke="#000" stroke-width="0.21" vector-effect="non-scaling-stroke">d</text>
<line x1="717.2" y1="995.5" x2="836.2" y2="995.5" stroke="#1a1a1a" stroke-width="1"/>
<line x1="717.2" y1="1105.9" x2="836.2" y2="1105.9" stroke="#1a1a1a" stroke-width="1"/>
<line x1="776.8" y1="1023.5" x2="810.6" y2="1023.5" stroke="#1a1a1a" stroke-width="1"/>
<line x1="776.8" y1="1078.2" x2="810.6" y2="1078.2" stroke="#1a1a1a" stroke-width="1"/>
<line x1="805.6" y1="1023.8" x2="805.6" y2="1078.2" stroke="#000" stroke-width="1"/>
<path d="M805.6 1023.8 L803.4 1034.4 L807.8 1034.4 Z" fill="#000"/>
<path d="M805.6 1078.2 L807.8 1067.6 L803.4 1067.6 Z" fill="#000"/>
<line x1="831.4" y1="995.6" x2="831.4" y2="1105.8" stroke="#1a1a1a" stroke-width="1"/>
<path d="M831.4 995.6 L829.2 1006.2 L833.6 1006.2 Z" fill="#000"/>
<path d="M831.4 1105.8 L833.6 1095.2 L829.2 1095.2 Z" fill="#000"/>
<text transform="translate(803.1 1048.8) rotate(-90) scale(0.7 1)" x="-9.42" y="0" font-size="15" stroke="#000" stroke-width="0.21" vector-effect="non-scaling-stroke">B1</text>
<text transform="translate(829.5 1047.7) rotate(-90) scale(0.72 1)" x="-9.41" y="0" font-size="15" stroke="#000" stroke-width="0.21" vector-effect="non-scaling-stroke">B2</text>
<line x1="557.1" y1="1137.7" x2="625.1" y2="1137.7" stroke="#000" stroke-width="1"/>
<path d="M557.1 1137.7 L567.7 1139.9 L567.7 1135.5 Z" fill="#000"/>
<path d="M625.1 1137.7 L614.5 1135.5 L614.5 1139.9 Z" fill="#000"/>
<line x1="462.9" y1="1160.7" x2="722.3" y2="1160.7" stroke="#000" stroke-width="1"/>
<path d="M462.9 1160.7 L473.5 1162.9 L473.5 1158.5 Z" fill="#000"/>
<path d="M722.3 1160.7 L711.7 1158.5 L711.7 1162.9 Z" fill="#000"/>
<line x1="432.7" y1="1183.9" x2="752.5" y2="1183.9" stroke="#000" stroke-width="1"/>
<path d="M432.7 1183.9 L443.3 1186.1 L443.3 1181.7 Z" fill="#000"/>
<path d="M752.5 1183.9 L741.9 1181.7 L741.9 1186.1 Z" fill="#000"/>
<text transform="translate(583.62 1135.3) scale(0.7 1)" font-size="15" stroke="#000" stroke-width="0.21" vector-effect="non-scaling-stroke">A1</text>
<text transform="translate(583.46 1158) scale(0.72 1)" font-size="15" stroke="#000" stroke-width="0.21" vector-effect="non-scaling-stroke">A2</text>
<text transform="translate(583.42 1180.9) scale(0.72 1)" font-size="15" stroke="#000" stroke-width="0.21" vector-effect="non-scaling-stroke">A3</text>
<text transform="translate(83.76 1266.2) scale(0.81 1)" font-size="27.7" stroke="#000" stroke-width="0.61" vector-effect="non-scaling-stroke">Рисунок</text>
<text transform="translate(178.2 1266.2) scale(0.71 1)" font-size="27.7" stroke="#000" stroke-width="0.61" vector-effect="non-scaling-stroke">1.</text>
<text transform="translate(203.06 1266.2) scale(0.81 1)" font-size="27.7" stroke="#000" stroke-width="0.61" vector-effect="non-scaling-stroke">Габаритные</text>
<text transform="translate(336.61 1266.2) scale(0.83 1)" font-size="27.7" stroke="#000" stroke-width="0.61" vector-effect="non-scaling-stroke">размеры</text>
<text transform="translate(436.58 1266.2) scale(0.81 1)" font-size="27.7" stroke="#000" stroke-width="0.61" vector-effect="non-scaling-stroke">держателей</text>
<text transform="translate(570.23 1266.2) scale(0.82 1)" font-size="27.7" stroke="#000" stroke-width="0.61" vector-effect="non-scaling-stroke">предохранителей</text>
<line x1="82.1" y1="1331.4" x2="1156.5" y2="1331.4" stroke="#2a2a2a" stroke-width="1.2"/>
<line x1="200.5" y1="1378.7" x2="1038.7" y2="1378.7" stroke="#2a2a2a" stroke-width="1.2"/>
<line x1="82.1" y1="1426.4" x2="1156.5" y2="1426.4" stroke="#2a2a2a" stroke-width="1.2"/>
<line x1="82.1" y1="1473.4" x2="1156.5" y2="1473.4" stroke="#2a2a2a" stroke-width="1.2"/>
<line x1="82.1" y1="1520.2" x2="1156.5" y2="1520.2" stroke="#2a2a2a" stroke-width="1.2"/>
<line x1="82.1" y1="1567.7" x2="1156.5" y2="1567.7" stroke="#2a2a2a" stroke-width="1.2"/>
<line x1="82.1" y1="1615.1" x2="1156.5" y2="1615.1" stroke="#2a2a2a" stroke-width="1.2"/>
<line x1="82.1" y1="1662.2" x2="1156.5" y2="1662.2" stroke="#2a2a2a" stroke-width="1.2"/>
<line x1="200.5" y1="1331.4" x2="200.5" y2="1662.2" stroke="#2a2a2a" stroke-width="1.2"/>
<line x1="1038.7" y1="1331.4" x2="1038.7" y2="1662.2" stroke="#2a2a2a" stroke-width="1.2"/>
<line x1="276.7" y1="1378.7" x2="276.7" y2="1662.2" stroke="#2a2a2a" stroke-width="1.2"/>
<line x1="352.9" y1="1378.7" x2="352.9" y2="1662.2" stroke="#2a2a2a" stroke-width="1.2"/>
<line x1="429.1" y1="1378.7" x2="429.1" y2="1662.2" stroke="#2a2a2a" stroke-width="1.2"/>
<line x1="505.3" y1="1378.7" x2="505.3" y2="1662.2" stroke="#2a2a2a" stroke-width="1.2"/>
<line x1="581.5" y1="1378.7" x2="581.5" y2="1662.2" stroke="#2a2a2a" stroke-width="1.2"/>
<line x1="657.7" y1="1378.7" x2="657.7" y2="1662.2" stroke="#2a2a2a" stroke-width="1.2"/>
<line x1="733.9" y1="1378.7" x2="733.9" y2="1662.2" stroke="#2a2a2a" stroke-width="1.2"/>
<line x1="810.1" y1="1378.7" x2="810.1" y2="1662.2" stroke="#2a2a2a" stroke-width="1.2"/>
<line x1="886.3" y1="1378.7" x2="886.3" y2="1662.2" stroke="#2a2a2a" stroke-width="1.2"/>
<line x1="962.5" y1="1378.7" x2="962.5" y2="1662.2" stroke="#2a2a2a" stroke-width="1.2"/>
<text transform="translate(93.82 1362.2) scale(0.8 1)" font-size="24.1" stroke="#000" stroke-width="0.53" vector-effect="non-scaling-stroke">Габарит</text>
<text transform="translate(211.46 1362.2) scale(0.83 1)" font-size="24.1" stroke="#000" stroke-width="0.53" vector-effect="non-scaling-stroke">Размер, мм</text>
<text transform="translate(1049.49 1362.2) scale(0.86 1)" font-size="24.1" stroke="#000" stroke-width="0.53" vector-effect="non-scaling-stroke">Вес, кг</text>
<text transform="translate(211.7 1408.9) scale(0.79 1)" font-size="24.1" stroke="#000" stroke-width="0.53" vector-effect="non-scaling-stroke">H1</text>
<text transform="translate(287.9 1408.9) scale(0.83 1)" font-size="24.1" stroke="#000" stroke-width="0.53" vector-effect="non-scaling-stroke">H2</text>
<text transform="translate(364.1 1408.9) scale(0.83 1)" font-size="24.1" stroke="#000" stroke-width="0.53" vector-effect="non-scaling-stroke">H3</text>
<text transform="translate(440.3 1408.9) scale(0.79 1)" font-size="24.1" stroke="#000" stroke-width="0.53" vector-effect="non-scaling-stroke">A1</text>
<text transform="translate(516.5 1408.9) scale(0.83 1)" font-size="24.1" stroke="#000" stroke-width="0.53" vector-effect="non-scaling-stroke">A2</text>
<text transform="translate(592.7 1408.9) scale(0.83 1)" font-size="24.1" stroke="#000" stroke-width="0.53" vector-effect="non-scaling-stroke">A3</text>
<text transform="translate(668.9 1408.9) scale(0.79 1)" font-size="24.1" stroke="#000" stroke-width="0.53" vector-effect="non-scaling-stroke">B1</text>
<text transform="translate(745.1 1408.9) scale(0.83 1)" font-size="24.1" stroke="#000" stroke-width="0.53" vector-effect="non-scaling-stroke">B2</text>
<text transform="translate(821.3 1408.9) scale(0.79 1)" font-size="24.1" stroke="#000" stroke-width="0.53" vector-effect="non-scaling-stroke">C1</text>
<text transform="translate(897.5 1408.9) scale(0.83 1)" font-size="24.1" stroke="#000" stroke-width="0.53" vector-effect="non-scaling-stroke">C2</text>
<circle cx="982.5" cy="1401.6" r="6.9" fill="none" stroke="#000" stroke-width="1"/>
<line x1="975.9" y1="1409.6" x2="989.3" y2="1393.6" stroke="#000" stroke-width="1"/>
<text transform="translate(991.83 1409) scale(0.86 1)" font-size="24.1" stroke="#000" stroke-width="0.53" vector-effect="non-scaling-stroke">d</text>
<text transform="translate(94.2 1456.3) scale(0.84 1)" font-size="24.1" stroke="#000" stroke-width="0.53" vector-effect="non-scaling-stroke">00</text>
<text transform="translate(211.5 1456.3) scale(0.84 1)" font-size="24.1" stroke="#000" stroke-width="0.53" vector-effect="non-scaling-stroke">25</text>
<text transform="translate(287.7 1456.3) scale(0.84 1)" font-size="24.1" stroke="#000" stroke-width="0.53" vector-effect="non-scaling-stroke">60</text>
<text transform="translate(363.9 1456.3) scale(0.84 1)" font-size="24.1" stroke="#000" stroke-width="0.53" vector-effect="non-scaling-stroke">85</text>
<text transform="translate(440.1 1456.3) scale(0.84 1)" font-size="24.1" stroke="#000" stroke-width="0.53" vector-effect="non-scaling-stroke">25</text>
<text transform="translate(517.3 1456.3) scale(0.84 1)" font-size="24.1" stroke="#000" stroke-width="0.53" vector-effect="non-scaling-stroke">100</text>
<text transform="translate(593.5 1456.3) scale(0.84 1)" font-size="24.1" stroke="#000" stroke-width="0.53" vector-effect="non-scaling-stroke">120</text>
<text transform="translate(668.7 1456.3) scale(1 1)" font-size="24.1" stroke="#000" stroke-width="0.53" vector-effect="non-scaling-stroke">–</text>
<text transform="translate(744.9 1456.3) scale(0.84 1)" font-size="24.1" stroke="#000" stroke-width="0.53" vector-effect="non-scaling-stroke">30</text>
<text transform="translate(821.1 1456.3) scale(0.84 1)" font-size="24.1" stroke="#000" stroke-width="0.53" vector-effect="non-scaling-stroke">58</text>
<text transform="translate(897.3 1456.3) scale(0.84 1)" font-size="24.1" stroke="#000" stroke-width="0.53" vector-effect="non-scaling-stroke">87</text>
<text transform="translate(973.5 1456.3) scale(0.84 1)" font-size="24.1" stroke="#000" stroke-width="0.53" vector-effect="non-scaling-stroke">7,5</text>
<text transform="translate(1049.7 1456.3) scale(0.84 1)" font-size="24.1" stroke="#000" stroke-width="0.53" vector-effect="non-scaling-stroke">0,193</text>
<text transform="translate(94.2 1503) scale(0.84 1)" font-size="24.1" stroke="#000" stroke-width="0.53" vector-effect="non-scaling-stroke">0</text>
<text transform="translate(211.5 1503) scale(0.84 1)" font-size="24.1" stroke="#000" stroke-width="0.53" vector-effect="non-scaling-stroke">37</text>
<text transform="translate(287.7 1503) scale(0.84 1)" font-size="24.1" stroke="#000" stroke-width="0.53" vector-effect="non-scaling-stroke">72</text>
<text transform="translate(363.9 1503) scale(0.84 1)" font-size="24.1" stroke="#000" stroke-width="0.53" vector-effect="non-scaling-stroke">91</text>
<text transform="translate(440.1 1503) scale(0.84 1)" font-size="24.1" stroke="#000" stroke-width="0.53" vector-effect="non-scaling-stroke">25</text>
<text transform="translate(517.3 1503) scale(0.84 1)" font-size="24.1" stroke="#000" stroke-width="0.53" vector-effect="non-scaling-stroke">150</text>
<text transform="translate(593.5 1503) scale(0.84 1)" font-size="24.1" stroke="#000" stroke-width="0.53" vector-effect="non-scaling-stroke">170</text>
<text transform="translate(668.7 1503) scale(1 1)" font-size="24.1" stroke="#000" stroke-width="0.53" vector-effect="non-scaling-stroke">–</text>
<text transform="translate(744.9 1503) scale(0.84 1)" font-size="24.1" stroke="#000" stroke-width="0.53" vector-effect="non-scaling-stroke">30</text>
<text transform="translate(821.1 1503) scale(0.84 1)" font-size="24.1" stroke="#000" stroke-width="0.53" vector-effect="non-scaling-stroke">68</text>
<text transform="translate(898.3 1503) scale(0.84 1)" font-size="24.1" stroke="#000" stroke-width="0.53" vector-effect="non-scaling-stroke">130</text>
<text transform="translate(973.5 1503) scale(0.84 1)" font-size="24.1" stroke="#000" stroke-width="0.53" vector-effect="non-scaling-stroke">7,5</text>
<text transform="translate(1049.7 1503) scale(0.84 1)" font-size="24.1" stroke="#000" stroke-width="0.53" vector-effect="non-scaling-stroke">0,295</text>
<text transform="translate(95.4 1550.5) scale(0.84 1)" font-size="24.1" stroke="#000" stroke-width="0.53" vector-effect="non-scaling-stroke">1</text>
<text transform="translate(211.5 1547.9) scale(0.84 1)" font-size="24.1" stroke="#000" stroke-width="0.53" vector-effect="non-scaling-stroke">38</text>
<text transform="translate(287.7 1547.9) scale(0.84 1)" font-size="24.1" stroke="#000" stroke-width="0.53" vector-effect="non-scaling-stroke">84</text>
<text transform="translate(364.9 1547.9) scale(0.84 1)" font-size="24.1" stroke="#000" stroke-width="0.53" vector-effect="non-scaling-stroke">100</text>
<text transform="translate(440.1 1547.9) scale(0.84 1)" font-size="24.1" stroke="#000" stroke-width="0.53" vector-effect="non-scaling-stroke">25</text>
<text transform="translate(517.3 1547.9) scale(0.84 1)" font-size="24.1" stroke="#000" stroke-width="0.53" vector-effect="non-scaling-stroke">175</text>
<text transform="translate(592.5 1547.9) scale(0.84 1)" font-size="24.1" stroke="#000" stroke-width="0.53" vector-effect="non-scaling-stroke">200</text>
<text transform="translate(668.7 1547.9) scale(0.84 1)" font-size="24.1" stroke="#000" stroke-width="0.53" vector-effect="non-scaling-stroke">30</text>
<text transform="translate(744.9 1547.9) scale(0.84 1)" font-size="24.1" stroke="#000" stroke-width="0.53" vector-effect="non-scaling-stroke">58</text>
<text transform="translate(821.1 1547.9) scale(0.84 1)" font-size="24.1" stroke="#000" stroke-width="0.53" vector-effect="non-scaling-stroke">60</text>
<text transform="translate(898.3 1547.9) scale(0.84 1)" font-size="24.1" stroke="#000" stroke-width="0.53" vector-effect="non-scaling-stroke">142</text>
<text transform="translate(974.5 1547.9) scale(0.84 1)" font-size="24.1" stroke="#000" stroke-width="0.53" vector-effect="non-scaling-stroke">10,5</text>
<text transform="translate(1049.7 1547.9) scale(0.84 1)" font-size="24.1" stroke="#000" stroke-width="0.53" vector-effect="non-scaling-stroke">0,55</text>
<text transform="translate(94.2 1597.7) scale(0.84 1)" font-size="24.1" stroke="#000" stroke-width="0.53" vector-effect="non-scaling-stroke">2</text>
<text transform="translate(211.5 1595.3) scale(0.84 1)" font-size="24.1" stroke="#000" stroke-width="0.53" vector-effect="non-scaling-stroke">38</text>
<text transform="translate(288.7 1595.3) scale(0.84 1)" font-size="24.1" stroke="#000" stroke-width="0.53" vector-effect="non-scaling-stroke">100</text>
<text transform="translate(364.9 1595.3) scale(0.84 1)" font-size="24.1" stroke="#000" stroke-width="0.53" vector-effect="non-scaling-stroke">105</text>
<text transform="translate(440.1 1595.3) scale(0.84 1)" font-size="24.1" stroke="#000" stroke-width="0.53" vector-effect="non-scaling-stroke">25</text>
<text transform="translate(516.3 1595.3) scale(0.84 1)" font-size="24.1" stroke="#000" stroke-width="0.53" vector-effect="non-scaling-stroke">200</text>
<text transform="translate(592.5 1595.3) scale(0.84 1)" font-size="24.1" stroke="#000" stroke-width="0.53" vector-effect="non-scaling-stroke">225</text>
<text transform="translate(668.7 1595.3) scale(0.84 1)" font-size="24.1" stroke="#000" stroke-width="0.53" vector-effect="non-scaling-stroke">30</text>
<text transform="translate(744.9 1595.3) scale(0.84 1)" font-size="24.1" stroke="#000" stroke-width="0.53" vector-effect="non-scaling-stroke">60</text>
<text transform="translate(821.1 1595.3) scale(0.84 1)" font-size="24.1" stroke="#000" stroke-width="0.53" vector-effect="non-scaling-stroke">60</text>
<text transform="translate(898.3 1595.3) scale(0.84 1)" font-size="24.1" stroke="#000" stroke-width="0.53" vector-effect="non-scaling-stroke">160</text>
<text transform="translate(974.5 1595.3) scale(0.84 1)" font-size="24.1" stroke="#000" stroke-width="0.53" vector-effect="non-scaling-stroke">10,5</text>
<text transform="translate(1049.7 1595.3) scale(0.84 1)" font-size="24.1" stroke="#000" stroke-width="0.53" vector-effect="non-scaling-stroke">0,77</text>
<text transform="translate(94.2 1644.6) scale(0.84 1)" font-size="24.1" stroke="#000" stroke-width="0.53" vector-effect="non-scaling-stroke">3</text>
<text transform="translate(211.5 1642.6) scale(0.84 1)" font-size="24.1" stroke="#000" stroke-width="0.53" vector-effect="non-scaling-stroke">40</text>
<text transform="translate(288.7 1642.6) scale(0.84 1)" font-size="24.1" stroke="#000" stroke-width="0.53" vector-effect="non-scaling-stroke">105</text>
<text transform="translate(364.9 1642.6) scale(0.84 1)" font-size="24.1" stroke="#000" stroke-width="0.53" vector-effect="non-scaling-stroke">118</text>
<text transform="translate(440.1 1642.6) scale(0.84 1)" font-size="24.1" stroke="#000" stroke-width="0.53" vector-effect="non-scaling-stroke">25</text>
<text transform="translate(516.3 1642.6) scale(0.84 1)" font-size="24.1" stroke="#000" stroke-width="0.53" vector-effect="non-scaling-stroke">210</text>
<text transform="translate(592.5 1642.6) scale(0.84 1)" font-size="24.1" stroke="#000" stroke-width="0.53" vector-effect="non-scaling-stroke">250</text>
<text transform="translate(668.7 1642.6) scale(0.84 1)" font-size="24.1" stroke="#000" stroke-width="0.53" vector-effect="non-scaling-stroke">30</text>
<text transform="translate(744.9 1642.6) scale(0.84 1)" font-size="24.1" stroke="#000" stroke-width="0.53" vector-effect="non-scaling-stroke">60</text>
<text transform="translate(821.1 1642.6) scale(0.84 1)" font-size="24.1" stroke="#000" stroke-width="0.53" vector-effect="non-scaling-stroke">60</text>
<text transform="translate(898.3 1642.6) scale(0.84 1)" font-size="24.1" stroke="#000" stroke-width="0.53" vector-effect="non-scaling-stroke">160</text>
<text transform="translate(974.5 1642.6) scale(0.84 1)" font-size="24.1" stroke="#000" stroke-width="0.53" vector-effect="non-scaling-stroke">10,5</text>
<text transform="translate(1049.7 1642.6) scale(0.84 1)" font-size="24.1" stroke="#000" stroke-width="0.53" vector-effect="non-scaling-stroke">0,965</text>
</svg>
</body></html>
